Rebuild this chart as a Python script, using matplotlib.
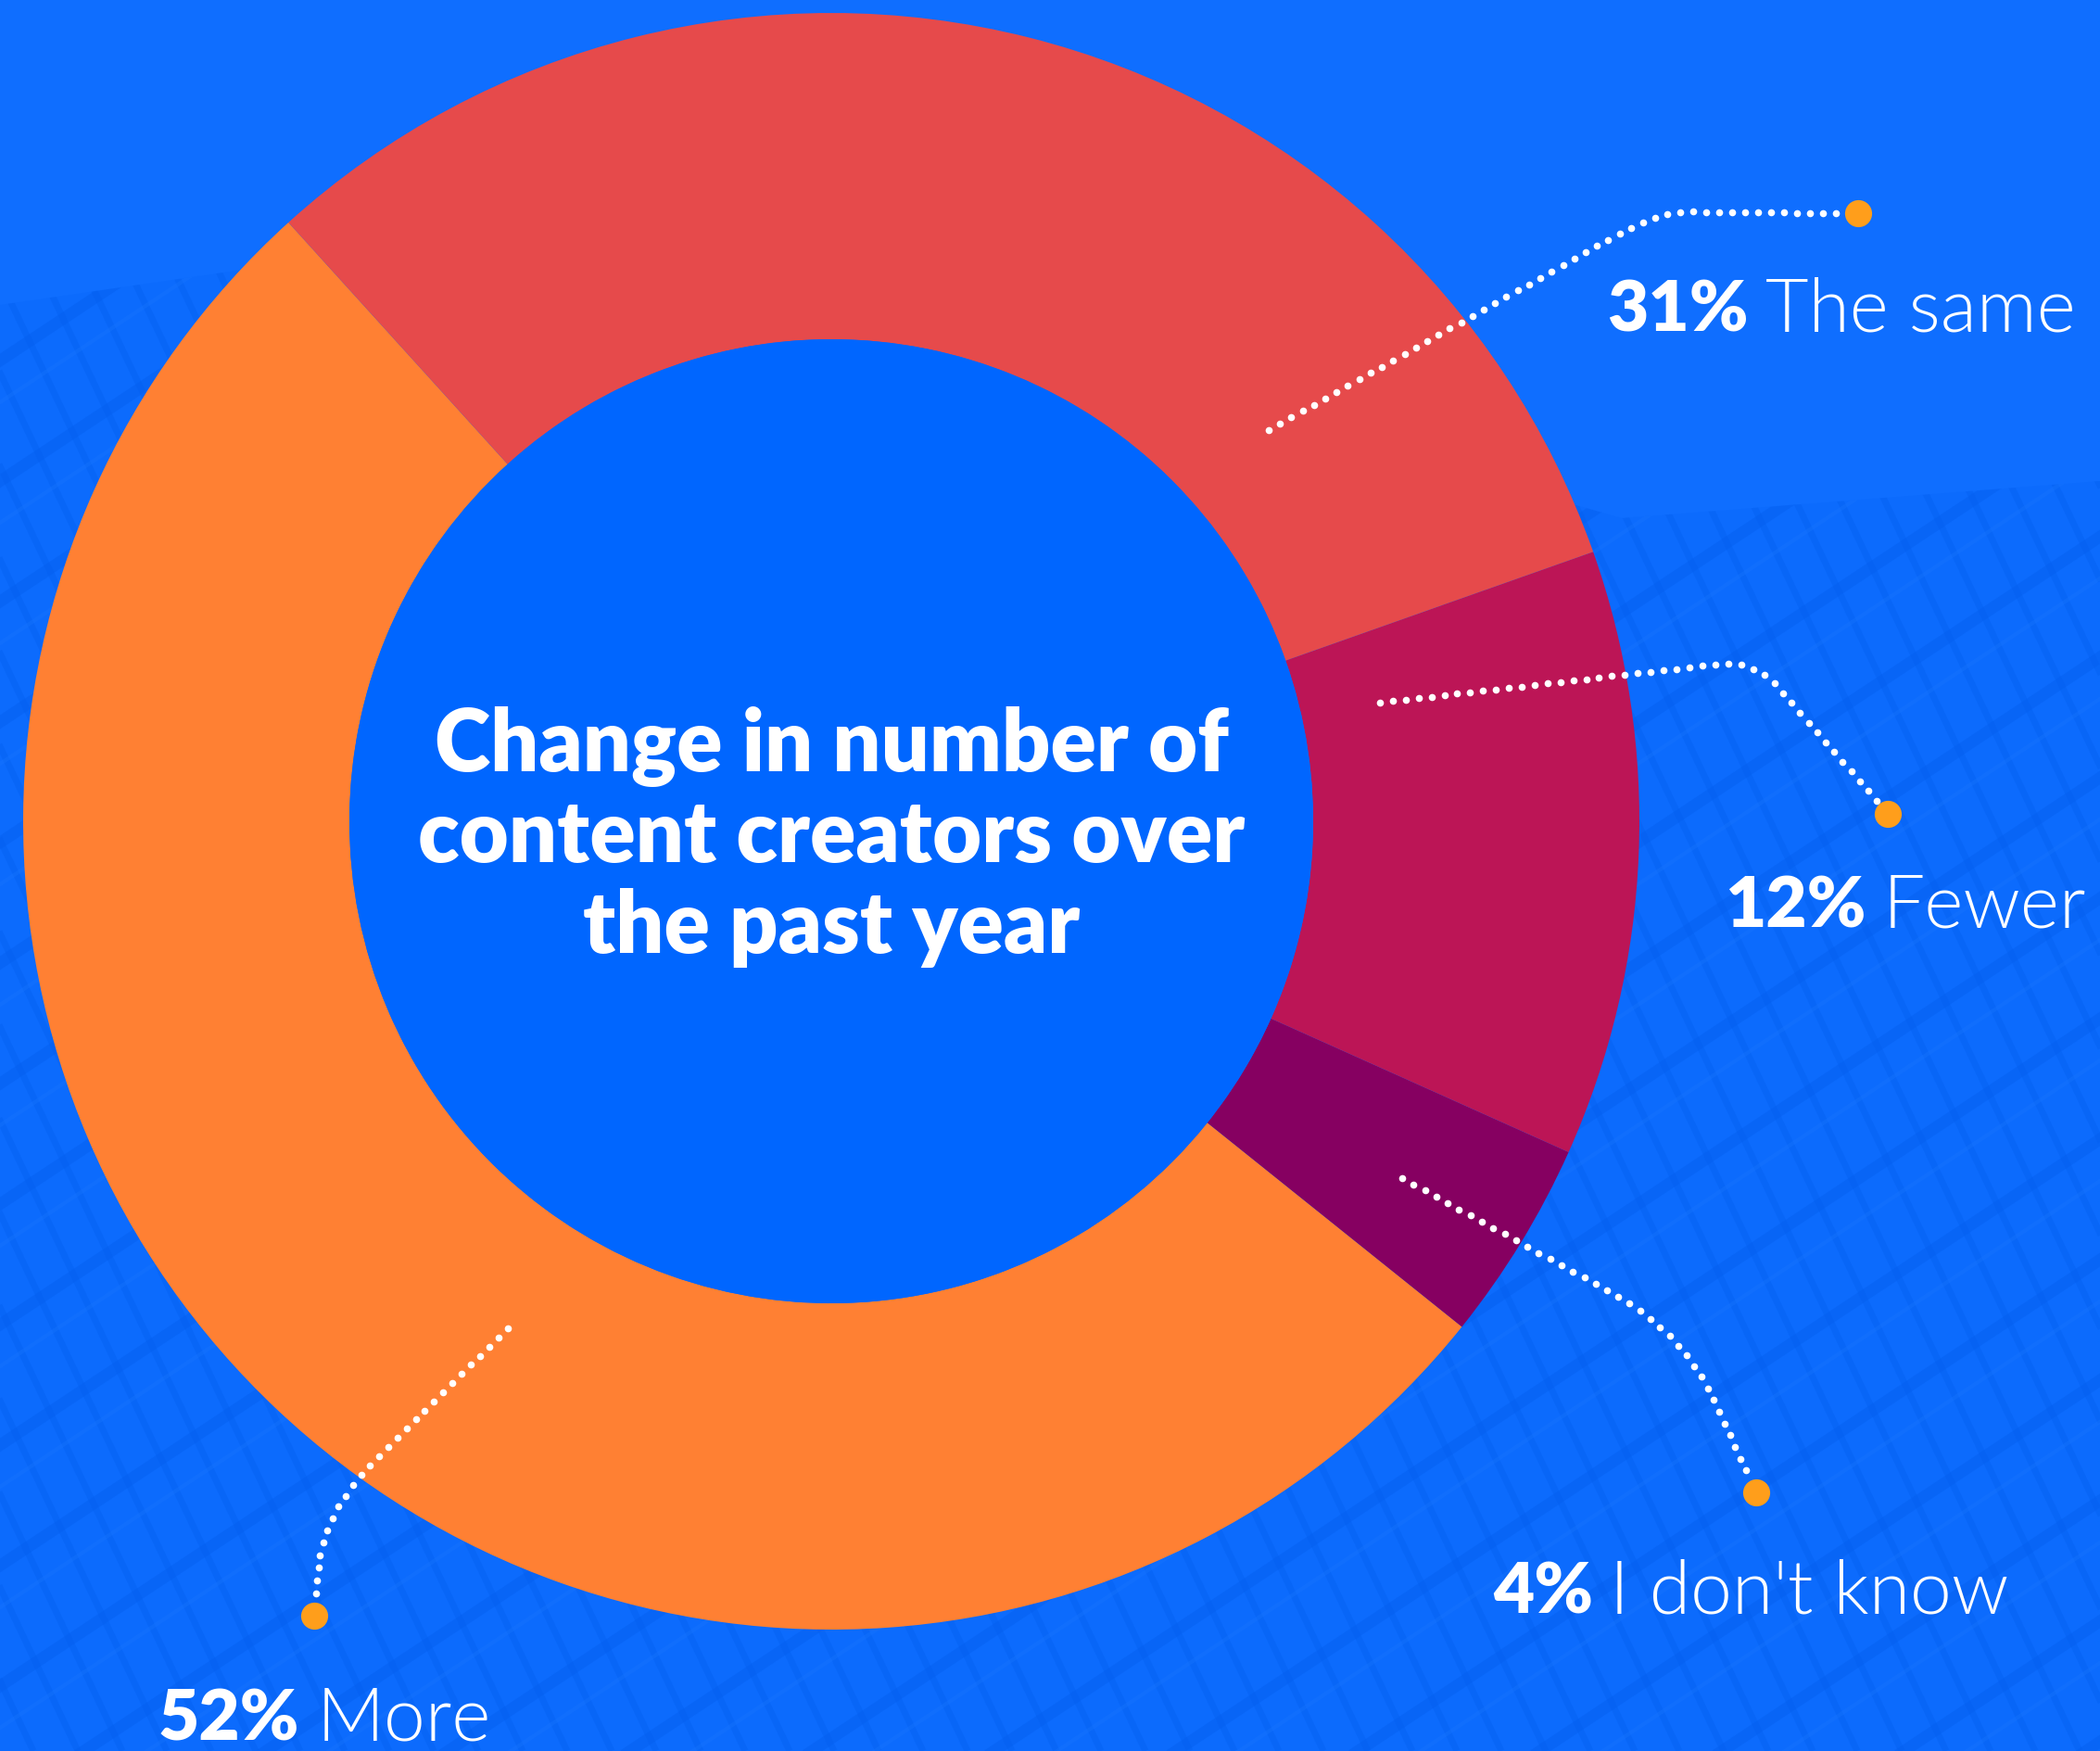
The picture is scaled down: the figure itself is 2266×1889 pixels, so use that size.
import matplotlib
matplotlib.use("Agg")
import matplotlib.pyplot as plt
import numpy as np
from matplotlib.patches import Circle, Polygon

# survey answers, drawn counter-clockwise from the top-left edge of "More"
labels = ["More", "I don't know", "Fewer", "The same"]
values = [52, 4, 12, 31]
pct_text = ["52%", "4%", "12%", "31%"]
colors = ["#FF8033", "#860061", "#BC1556", "#E64A4B"]

title = "Change in number of\ncontent creators over\nthe past year"

W, H = 2266, 1890
BG = "#0F6EFF"
HOLE = "#0066FF"
DOT = "#FF9E1B"

fig = plt.figure(figsize=(W / 100, H / 100), dpi=100)
fig.patch.set_facecolor(BG)
ax = fig.add_axes([0, 0, 1, 1])
ax.set_facecolor(BG)


def yy(y):
    # pixel rows are measured from the top
    return H - y


# faint building facade behind the chart
facade = [(0, 330), (620, 240), (1750, 560), (2266, 520), (2266, H), (0, H)]
poly = Polygon([(x, yy(y)) for x, y in facade], closed=True,
               facecolor="#0C6BFD", edgecolor="none", zorder=0)
ax.add_patch(poly)
for k in range(-40, 60):
    x0 = k * 48
    ln, = ax.plot([x0, x0 + 900], [yy(0), yy(1890)], color="#0560F0",
                  lw=5, alpha=0.45, zorder=0.5, solid_capstyle="butt")
    ln.set_clip_path(poly)
for k in range(-20, 40):
    y0 = k * 130
    ln, = ax.plot([0, W], [yy(y0), yy(y0 - 1500)], color="#0560F0",
                  lw=9, alpha=0.5, zorder=0.5)
    ln.set_clip_path(poly)
for k in range(-20, 40):
    y0 = k * 130 + 45
    ln, = ax.plot([0, W], [yy(y0), yy(y0 - 1500)], color="#1A78FF",
                  lw=3, alpha=0.3, zorder=0.5)
    ln.set_clip_path(poly)

cx, cy = 897, yy(887)
R_out, R_in = 872, 520
ax.pie(values, colors=colors, startangle=132.2, counterclock=True,
       radius=R_out, center=(cx, cy),
       wedgeprops=dict(width=R_out - R_in, edgecolor="none", zorder=2))
ax.add_patch(Circle((cx, cy), R_in, facecolor=HOLE, edgecolor="none", zorder=2.5))

ax.set_xlim(0, W)
ax.set_ylim(0, H)
ax.set_aspect("equal")
ax.axis("off")

ax.text(cx, yy(903), title, ha="center", va="center", color="white",
        fontsize=66, fontweight="heavy", family="Lato", linespacing=1.17,
        zorder=5)


def leader(start, corner, end, r1, r2, spacing=14):
    s, c, e = (np.array(p, dtype=float) for p in (start, corner, end))
    p1 = c + (s - c) / np.linalg.norm(s - c) * r1
    p2 = c + (e - c) / np.linalg.norm(e - c) * r2
    t = np.linspace(0, 1, 60)[:, None]
    curve = (1 - t) ** 2 * p1 + 2 * (1 - t) * t * c + t ** 2 * p2
    pts = np.vstack([s, curve, e])
    seg = np.linalg.norm(np.diff(pts, axis=0), axis=1)
    d = np.concatenate([[0], np.cumsum(seg)])
    n = np.arange(0, d[-1], spacing)
    xs = np.interp(n, d, pts[:, 0])
    ys = np.interp(n, d, pts[:, 1])
    ax.plot(xs, [yy(v) for v in ys], "o", color="white", ms=5.5,
            mec="none", zorder=6)


def dot(x, y):
    ax.plot(x, yy(y), "o", color=DOT, ms=21, mec="none", zorder=6)


renderer = fig.canvas.get_renderer()


def label(x, y, pct, name):
    t = ax.text(x, yy(y), pct, color="white", fontsize=55, fontweight="heavy",
                family="Lato", ha="left", va="baseline", zorder=6)
    bb = t.get_window_extent(renderer=renderer)
    x2 = ax.transData.inverted().transform((bb.x1, bb.y0))[0]
    ax.text(x2 + 18, yy(y), name, color="white", fontsize=58,
            fontweight=300, family="Lato", ha="left", va="baseline",
            zorder=6)


# The same
leader((1369, 465), (1790, 229), (1985, 231), 60, 30)
dot(2005, 231)
label(1734, 358, pct_text[3], labels[3])

# Fewer
leader((1489, 759), (1893, 713), (2026, 866), 40, 40)
dot(2037, 879)
label(1861, 1001, pct_text[2], labels[2])

# I don't know
leader((1513, 1272), (1815, 1437), (1888, 1596), 90, 80)
dot(1895, 1611)
label(1611, 1741, pct_text[1], labels[1])

# More
leader((548, 1434), (350, 1630), (340, 1728), 80, 60)
dot(339, 1744)
label(171, 1878, pct_text[0], labels[0])

fig.savefig("out.png", dpi=100, facecolor=BG)
